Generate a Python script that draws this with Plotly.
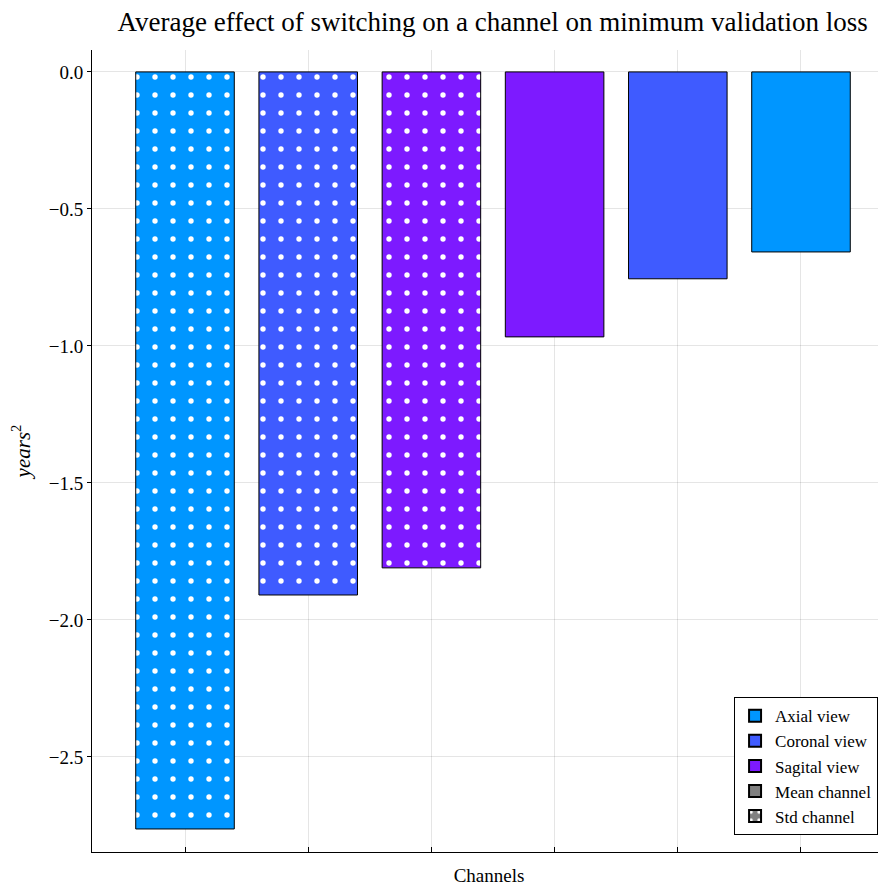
import plotly.graph_objects as go

categories = ["Axial std", "Coronal std", "Sagital std", "Sagital mean", "Coronal mean", "Axial mean"]
std_values = [-2.763, -1.909, -1.810]
mean_values = [-0.967, -0.755, -0.657]
std_colors = ["#0096FF", "#3F5BFF", "#7D1AFF"]
mean_colors = ["#7D1AFF", "#3F5BFF", "#0096FF"]
views = ["Axial view", "Coronal view", "Sagital view"]
view_colors = ["#0096FF", "#3F5BFF", "#7D1AFF"]
y_ticks = [0.0, -0.5, -1.0, -1.5, -2.0, -2.5]
y_labels = ["0.0", "−0.5", "−1.0", "−1.5", "−2.0", "−2.5"]

FONT = "Liberation Serif"

fig = go.Figure()
line = dict(color="black", width=1)

fig.add_trace(go.Bar(x=categories[:3], y=std_values, width=0.8,
                     marker=dict(color=std_colors, line=line,
                                 pattern=dict(shape=".", fgcolor="white", fgopacity=1, size=18,
                                              solidity=0.07, fillmode="overlay")),
                     showlegend=False))
fig.add_trace(go.Bar(x=categories[3:], y=mean_values, width=0.8,
                     marker=dict(color=mean_colors, line=line), showlegend=False))

for name, c in zip(views, view_colors):
    fig.add_trace(go.Bar(x=[None], y=[None], name=name, marker=dict(color=c, line=line)))
fig.add_trace(go.Bar(x=[None], y=[None], name="Mean channel", marker=dict(color="#808080", line=line)))
fig.add_trace(go.Bar(x=[None], y=[None], name="Std channel",
                     marker=dict(color="#808080", line=line,
                                 pattern=dict(shape=".", fgcolor="white", fgopacity=1, size=12,
                                              solidity=0.15, fillmode="overlay"))))

fig.update_layout(
    width=878, height=879,
    margin=dict(l=84, r=0, t=42, b=35),
    paper_bgcolor="white", plot_bgcolor="white",
    font=dict(family=FONT, size=19, color="black"),
    title=dict(text="Average effect of switching on a channel on minimum validation loss",
               x=0.552, xanchor="center", y=0.985, yanchor="middle", font=dict(size=27)),
    barmode="overlay",
    legend=dict(x=0.99, y=0.021, xanchor="right", yanchor="bottom",
                bordercolor="black", borderwidth=1, bgcolor="white",
                font=dict(size=17), tracegroupgap=0, itemsizing="constant"),
    xaxis=dict(type="category", categoryorder="array", categoryarray=categories,
               range=[-0.755, 5.69], showticklabels=False, ticks="inside", ticklen=5,
               tickcolor="black", showline=True, linecolor="black", linewidth=1,
               showgrid=True, gridcolor="rgba(0,0,0,0.1)", zeroline=False, mirror=False,
               automargin=False,
               title=dict(text="Channels", standoff=16, font=dict(size=19))),
    yaxis=dict(range=[-2.847, 0.08], tickvals=y_ticks, ticktext=y_labels,
               ticks="outside", ticklen=4, tickcolor="black",
               showline=True, linecolor="black", linewidth=1,
               showgrid=True, gridcolor="rgba(0,0,0,0.1)", zeroline=False,
               automargin=False,
               title=dict(text="<i>years</i><sup>2</sup>", standoff=12, font=dict(size=21))),
)

fig.write_html("out.html")
